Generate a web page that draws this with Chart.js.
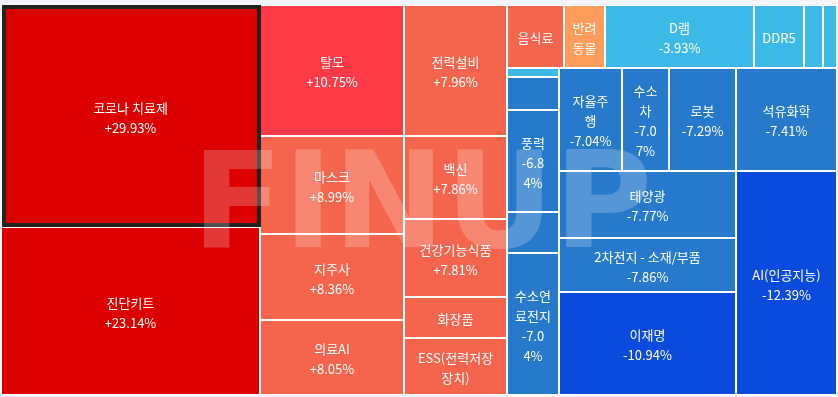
<!DOCTYPE html>
<html>
<head>
<meta charset="utf-8">
<script src="https://cdn.jsdelivr.net/npm/chart.js@4.4.0/dist/chart.umd.min.js"></script>
<style>
html, body { margin: 0; padding: 0; background: #f3f5fa; }
#wrap { width: 838px; height: 397px; }
</style>
</head>
<body>
<div id="wrap"><canvas id="treeChart" width="838" height="397"></canvas></div>
<script>
// themes, ordered by change (as the treemap lays them out)
var themes = ['코로나 치료제', '진단키트', '탈모', '마스크', '지주사', '의료AI', '전력설비', '백신', '건강기능식품', '화장품',
    'ESS(전력저장장치)', '음식료', '반려동물', 'D램', 'DDR5', '', '', '', '', '풍력',
    '', '수소연료전지', '자율주행', '수소차', '로봇', '석유화학', '태양광', '2차전지 - 소재/부품', '이재명', 'AI(인공지능)'];
// daily change, %
var changes = [29.93, 23.14, 10.75, 8.99, 8.36, 8.05, 7.96, 7.86, 7.81, 7.52,
    7.31, 6.20, 3.35, -3.93, -4.12, -4.30, -4.58, -4.86, -5.62, -6.84,
    -6.95, -7.04, -7.04, -7.07, -7.29, -7.41, -7.77, -7.86, -10.94, -12.39];
// tile size (weight)
var weights = [57500, 43500, 19000, 14200, 12450, 10900, 13500, 8550, 8050, 4200,
    5870, 3600, 2600, 9400, 3150, 1250, 870, 440, 1740, 5300,
    2180, 7380, 6490, 4740, 6900, 10400, 11800, 9680, 18130, 22730];
var selected = 0;

var W = 836, H = 390;

// squarified layout (same rule as d3.treemapSquarify)
function squarify(values, x0, y0, x1, y1) {
    var ratio = (1 + Math.sqrt(5)) / 2;
    var out = [];
    var n = values.length, i0 = 0, i1 = 0;
    var value = values.reduce(function (a, b) { return a + b; }, 0);
    while (i0 < n) {
        var dx = x1 - x0, dy = y1 - y0;
        var sum = values[i1++];
        var minV = sum, maxV = sum;
        var alpha = Math.max(dy / dx, dx / dy) / (value * ratio);
        var beta = sum * sum * alpha;
        var minRatio = Math.max(maxV / beta, beta / minV);
        for (; i1 < n; ++i1) {
            var v = values[i1];
            sum += v;
            if (v < minV) minV = v;
            if (v > maxV) maxV = v;
            beta = sum * sum * alpha;
            var r = Math.max(maxV / beta, beta / minV);
            if (r > minRatio) { sum -= v; break; }
            minRatio = r;
        }
        var i;
        if (dx < dy) {
            var yEnd = y0 + dy * sum / value, x = x0;
            for (i = i0; i < i1; i++) {
                var w = dx * values[i] / sum;
                out[i] = { x0: x, y0: y0, x1: x + w, y1: yEnd };
                x += w;
            }
            y0 = yEnd;
        } else {
            var xEnd = x0 + dx * sum / value, y = y0;
            for (i = i0; i < i1; i++) {
                var h = dy * values[i] / sum;
                out[i] = { x0: x0, y0: y, x1: xEnd, y1: y + h };
                y += h;
            }
            x0 = xEnd;
        }
        value -= sum;
        i0 = i1;
    }
    return out;
}

var rects = squarify(weights, 0, 0, W, H);
var cells = rects.map(function (r, i) {
    return { x: (r.x0 + r.x1) / 2, y: (r.y0 + r.y1) / 2, rect: r, name: themes[i], change: changes[i] };
});

function tileColor(v) {
    if (v >= 20) return '#dc0000';
    if (v >= 10) return '#ff3a47';
    if (v >= 5) return '#f5644c';
    if (v > 0) return '#fe9d5b';
    if (v > -5) return '#3db9e8';
    if (v > -10) return '#2679cb';
    return '#0a4adc';
}

function fmt(v) {
    return (v > 0 ? '+' : '') + v.toFixed(2) + '%';
}

// break text by characters, hangul counted wider than latin
function wrap(text, maxW) {
    var lines = [], cur = '', cw = 0;
    for (var i = 0; i < text.length; i++) {
        var ch = text[i];
        var u = /[\uac00-\ud7a3]/.test(ch) ? 13 : 8.25;
        if (cw + u > maxW && cur) {
            lines.push(cur.trim());
            cur = ''; cw = 0;
        }
        cur += ch; cw += u;
    }
    if (cur) lines.push(cur.trim());
    return lines;
}

var treemapPlugin = {
    id: 'treemap',
    beforeDatasetsDraw: function (chart) {
        var ctx = chart.ctx, xs = chart.scales.x, ys = chart.scales.y, a = chart.chartArea;
        var data = chart.data.datasets[0].data;
        ctx.save();
        ctx.fillStyle = '#ffffff';
        ctx.fillRect(a.left, a.top, a.right - a.left, a.bottom - a.top);
        data.forEach(function (c) {
            var L = Math.round(xs.getPixelForValue(c.rect.x0));
            var R = Math.round(xs.getPixelForValue(c.rect.x1));
            var T = Math.round(ys.getPixelForValue(c.rect.y0));
            var B = Math.round(ys.getPixelForValue(c.rect.y1));
            ctx.fillStyle = tileColor(c.change);
            ctx.fillRect(L + 1, T + 1, R - L - 2, B - T - 2);
            c.px = { L: L, R: R, T: T, B: B };
        });
        var s = data[selected].px;
        ctx.strokeStyle = '#222222';
        ctx.lineWidth = 4;
        ctx.strokeRect(s.L + 3, s.T + 2, s.R - s.L - 4, s.B - s.T - 4);

        // watermark
        ctx.fillStyle = 'rgba(255,255,255,0.22)';
        ctx.font = 'bold 134px "DejaVu Sans"';
        ctx.textAlign = 'center';
        ctx.textBaseline = 'alphabetic';
        ctx.fillText('FINUP', xs.getPixelForValue(421), ys.getPixelForValue(242));

        // labels
        ctx.fillStyle = '#ffffff';
        ctx.font = '13px "Noto Sans CJK KR"';
        ctx.textBaseline = 'middle';
        data.forEach(function (c) {
            if (!c.name) return;
            var p = c.px, bw = p.R - p.L, bh = p.B - p.T;
            var maxW = bw - 12, maxH = bh - 8;
            var nameLines = wrap(c.name, maxW);
            var pctLines = wrap(fmt(c.change), maxW);
            var lines = nameLines;
            if (nameLines.length * 20 > maxH) return;
            if ((nameLines.length + pctLines.length) * 20 <= maxH) lines = nameLines.concat(pctLines);
            var cx = (p.L + p.R) / 2, cy = (p.T + p.B) / 2 + 2;
            lines.forEach(function (t, k) {
                ctx.fillText(t, cx, cy + (k - (lines.length - 1) / 2) * 20);
            });
        });
        ctx.restore();
    }
};

var treeChart = new Chart(document.getElementById('treeChart').getContext('2d'), {
    type: 'scatter',
    data: {
        datasets: [{
            label: 'themes',
            data: cells,
            pointRadius: 0,
            pointHoverRadius: 0
        }]
    },
    options: {
        responsive: false,
        animation: false,
        devicePixelRatio: 1,
        layout: { padding: { left: 1, right: 1, top: 5, bottom: 2 } },
        scales: {
            x: { type: 'linear', min: 0, max: W, display: false },
            y: { type: 'linear', min: 0, max: H, reverse: true, display: false }
        },
        plugins: {
            legend: { display: false },
            tooltip: { enabled: false }
        }
    },
    plugins: [treemapPlugin]
});
</script>
</body>
</html>
